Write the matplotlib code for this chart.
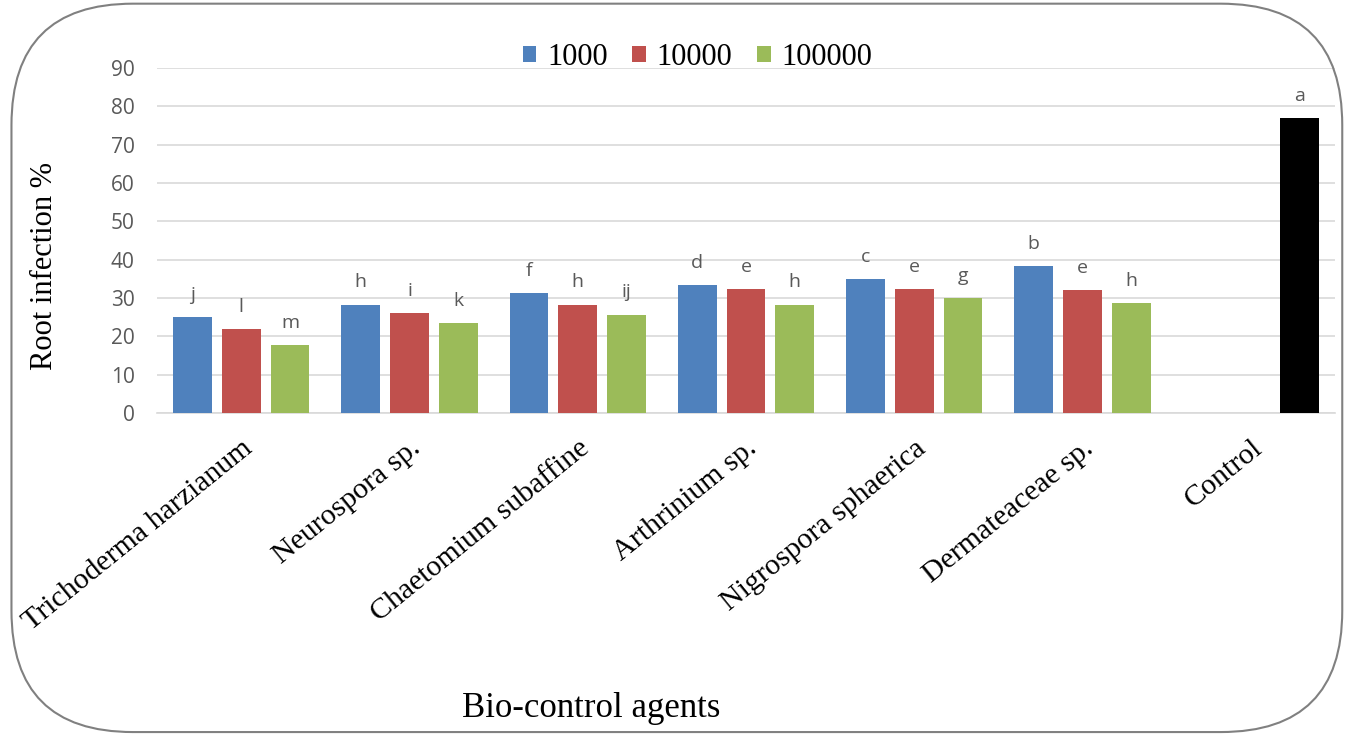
import numpy as np
import matplotlib.pyplot as plt
from matplotlib.patches import FancyBboxPatch

# data
agents = ["Trichoderma harzianum", "Neurospora sp.", "Chaetomium subaffine",
          "Arthrinium sp.", "Nigrospora sphaerica", "Dermateaceae sp.", "Control"]
series = ["1000", "10000", "100000"]
v1000 = [25.1, 28.3, 31.2, 33.4, 35.0, 38.3, np.nan]
v10000 = [21.9, 26.1, 28.3, 32.4, 32.4, 32.1, np.nan]
v100000 = [17.7, 23.5, 25.7, 28.3, 29.9, 28.6, np.nan]
control = 76.9
let1000 = ["j", "h", "f", "d", "c", "b"]
let10000 = ["l", "i", "h", "e", "e", "e"]
let100000 = ["m", "k", "ij", "h", "g", "h"]

colors = ["#4F81BD", "#C0504D", "#9BBB59"]

fig = plt.figure(figsize=(13.49, 7.35), dpi=100)
ax = fig.add_axes([0.1164, 0.438, 0.8732, 0.4695])

x = np.arange(len(agents))
off = 0.29
w = 0.23
for i, (vals, labs) in enumerate(zip([v1000, v10000, v100000],
                                     [let1000, let10000, let100000])):
    pos = x + (i - 1) * off
    ax.bar(pos, vals, width=w, color=colors[i], label=series[i], zorder=3)
    for p, v, t in zip(pos, vals, labs):
        ax.annotate(t, (p, v), xytext=(0, 16), textcoords="offset points",
                    ha="center", va="center", fontsize=14, color="#595959",
                    family="Open Sans")

# control bar sits in the last slot
ax.bar(x[-1] + off, control, width=w, color="black", zorder=3)
ax.annotate("a", (x[-1] + off, control), xytext=(0, 16), textcoords="offset points",
            ha="center", va="center", fontsize=14, color="#595959", family="Open Sans")

ax.set_xlim(-0.5, len(agents) - 0.5)
ax.set_ylim(0, 90)
ax.set_yticks(range(0, 91, 10))
ax.yaxis.grid(True, color="#D9D9D9", linewidth=1.2, zorder=0)
ax.tick_params(axis="y", length=0, pad=16, labelsize=15, labelcolor="#595959")
for lab in ax.get_yticklabels():
    lab.set_family("Open Sans")
ax.tick_params(axis="x", length=0, pad=16)
ax.set_xticks(x)
ax.set_xticklabels(agents, rotation=39, ha="right", rotation_mode="anchor",
                   family="Liberation Serif", fontsize=21.5)
for s in ["top", "right", "left"]:
    ax.spines[s].set_visible(False)
ax.spines["bottom"].set_color("#D9D9D9")
ax.spines["bottom"].set_linewidth(1.2)

leg = fig.legend(*ax.get_legend_handles_labels(), loc="center",
                 bbox_to_anchor=(0.517, 0.922), ncol=3, frameon=False,
                 prop={"family": "Liberation Serif", "size": 22},
                 handlelength=0.45, handleheight=0.45, handletextpad=0.35,
                 columnspacing=0.8)

fig.text(0.033, 0.638, "Root infection %", rotation=90, ha="center", va="center",
         family="Liberation Serif", fontsize=22)
fig.text(0.438, 0.036, "Bio-control agents", ha="center", va="center",
         family="Liberation Serif", fontsize=25)

border = FancyBboxPatch((0.0085, 0.004), 0.9865, 0.991,
                        boxstyle="round,pad=0,rounding_size=0.09",
                        transform=fig.transFigure, fill=False, edgecolor="#808080",
                        linewidth=1.5, mutation_aspect=1.835)
fig.patches.append(border)

fig.savefig("out.png", dpi=100)
